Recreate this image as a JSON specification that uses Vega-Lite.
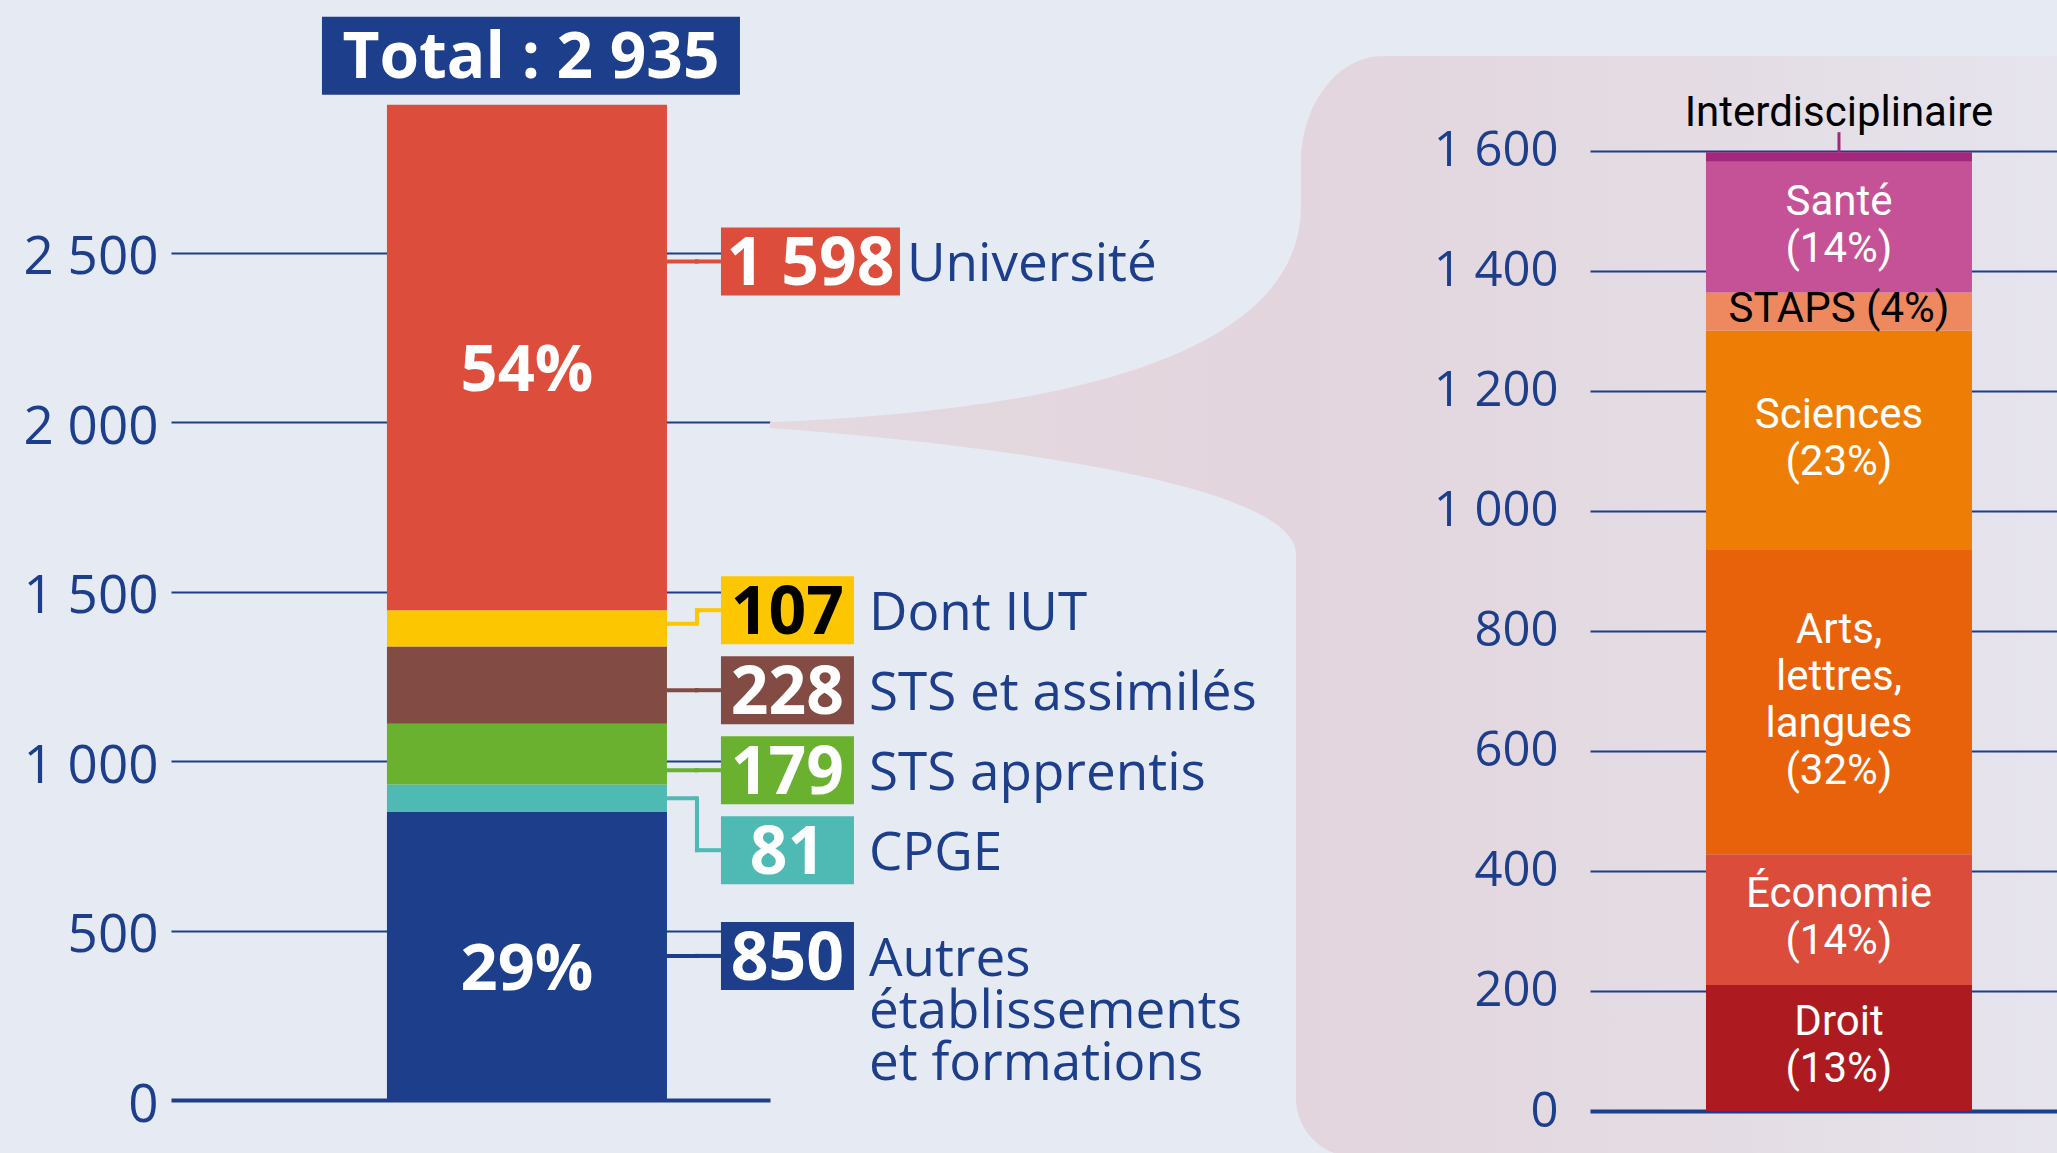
{
  "$schema": "https://vega.github.io/schema/vega-lite/v6.json",
  "background": "#e5eaf3",
  "padding": {"left": 23, "top": 16, "right": 0, "bottom": 0},
  "bounds": "flush",
  "spacing": 820,
  "resolve": {"scale": {"color": "independent"}},
  "config": {"view": {"stroke": null}, "font": "Open Sans"},
  "hconcat": [
    {
      "width": 599,
      "height": 1083,
      "data": {"values": [
        {"filiere": "Autres établissements et formations", "etablissement": "Autres établissements et formations", "effectif": 850},
        {"filiere": "CPGE", "etablissement": "CPGE", "effectif": 81},
        {"filiere": "STS apprentis", "etablissement": "STS apprentis", "effectif": 179},
        {"filiere": "STS et assimilés", "etablissement": "STS et assimilés", "effectif": 228},
        {"filiere": "Dont IUT", "etablissement": "Université", "effectif": 107},
        {"filiere": "Université hors IUT", "etablissement": "Université", "effectif": 1491}
      ]},
      "transform": [
        {"calculate": "'Ensemble'", "as": "ensemble"},
        {"calculate": "indexof(['Autres établissements et formations','CPGE','STS apprentis','STS et assimilés','Dont IUT','Université hors IUT'], datum.filiere)", "as": "rang"},
        {"stack": "effectif", "groupby": ["ensemble"], "sort": [{"field": "rang", "order": "ascending"}], "as": ["y0", "y1"]},
        {"joinaggregate": [{"op": "sum", "field": "effectif", "as": "total"}]},
        {"joinaggregate": [{"op": "sum", "field": "effectif", "as": "total_etab"}], "groupby": ["etablissement"]},
        {"calculate": "(datum.y0 + datum.y1) / 2", "as": "milieu"},
        {"calculate": "datum.filiere === 'Université hors IUT' ? datum.y0 + 0.69 * (datum.y1 - datum.y0) : (datum.filiere === 'Dont IUT' ? datum.y1 : datum.milieu)", "as": "ancre"},
        {"window": [{"op": "row_number", "as": "k"}], "sort": [{"field": "rang", "order": "descending"}]},
        {"calculate": "datum.ancre + (datum.k - 1) * 236", "as": "b"},
        {"window": [{"op": "min", "field": "b", "as": "bmin"}], "sort": [{"field": "rang", "order": "descending"}], "frame": [null, 0]},
        {"calculate": "datum.bmin - (datum.k - 1) * 236", "as": "y_etiquette"},
        {"calculate": "clamp(datum.y_etiquette, datum.y0 + min(40, (datum.y1 - datum.y0) / 2), datum.y1 - min(40, (datum.y1 - datum.y0) / 2))", "as": "depart"},
        {"calculate": "datum.filiere === 'Dont IUT' ? datum.effectif : datum.total_etab", "as": "valeur"},
        {"calculate": "replace(format(datum.valeur, ','), ',', ' ')", "as": "valeur_txt"},
        {"calculate": "datum.filiere === 'Université hors IUT' ? 'Université' : (datum.filiere === 'Autres établissements et formations' ? 'Autres\\nétablissements\\net formations' : datum.filiere)", "as": "nom"},
        {"calculate": "format(datum.total_etab / datum.total, '.0%')", "as": "part"}
      ],
      "encoding": {
        "x": {"field": "ensemble", "type": "nominal", "axis": null, "scale": {"type": "band", "paddingInner": 0, "paddingOuter": 0.5696, "align": 0.677}}
      },
      "layer": [
        {
          "transform": [{"filter": "datum.filiere === 'Université hors IUT'"}],
          "mark": {"type": "point", "shape": "M243,0C483,-9,774,-51,774,-216L774,-258C774,-318,811,-366,856,-366L1530,-366L1530,732L810,732A59,59,0,0,1,769,676L769,132C769,69,523,27,243,6Z", "size": 4, "filled": true, "opacity": 1, "fillOpacity": 1, "strokeWidth": 0,
            "fill": {"gradient": "linear", "x1": 0, "y1": 0, "x2": 1, "y2": 0, "stops": [{"offset": 0, "color": "#e4d9e0"}, {"offset": 0.4, "color": "#e3d5dd"}, {"offset": 0.7, "color": "#e4dbe3"}, {"offset": 1, "color": "#e6e4ed"}]}},
          "encoding": {"y": {"datum": 2000, "type": "quantitative", "scale": {"domain": [0, 3195], "nice": false, "zero": true},
            "axis": {"values": [0, 500, 1000, 1500, 2000, 2500], "labelExpr": "replace(format(datum.value, ','), ',', ' ')", "labelFontSize": 53, "labelColor": "#1d3e8a", "labelFont": "Open Sans", "labelPadding": 13, "labelOffset": 5, "ticks": false, "domain": false, "grid": true, "gridColor": "#1d3e8a", "gridOpacity": 1, "gridWidth": {"condition": {"test": "datum.value === 0", "value": 4}, "value": 2}, "title": null}}}
        },
        {
          "mark": {"type": "bar"},
          "encoding": {
            "y": {"field": "y1", "type": "quantitative", "title": null, "scale": {"domain": [0, 3195], "nice": false, "zero": true}},
            "y2": {"field": "y0"},
            "color": {"field": "filiere", "type": "nominal", "legend": null, "scale": {"domain": ["Autres établissements et formations", "CPGE", "STS apprentis", "STS et assimilés", "Dont IUT", "Université hors IUT"], "range": ["#1d3e8a", "#4fb9b3", "#6ab12f", "#824b43", "#fcc600", "#dc4e3b"]}}
          }
        },
        {
          "transform": [{"filter": "datum.filiere === 'Université hors IUT' || datum.filiere === 'Autres établissements et formations'"}],
          "mark": {"type": "text", "fontSize": 65, "fontWeight": "bold", "color": "#ffffff", "align": "center", "baseline": "middle", "dy": 14},
          "encoding": {"y": {"field": "milieu", "type": "quantitative", "title": null, "scale": {"domain": [0, 3195], "nice": false, "zero": true}}, "text": {"field": "part"}}
        },
        {
          "mark": {"type": "bar", "width": 30, "xOffset": 155, "yOffset": -2, "y2Offset": 2},
          "encoding": {"y": {"field": "depart", "type": "quantitative", "title": null, "scale": {"domain": [0, 3195], "nice": false, "zero": true}}, "y2": {"field": "depart"},
            "color": {"field": "filiere", "type": "nominal", "legend": null}}
        },
        {
          "mark": {"type": "rule", "xOffset": 170, "strokeWidth": 4, "strokeCap": "square"},
          "encoding": {"y": {"field": "depart", "type": "quantitative", "title": null, "scale": {"domain": [0, 3195], "nice": false, "zero": true}}, "y2": {"field": "y_etiquette"},
            "color": {"field": "filiere", "type": "nominal", "legend": null}}
        },
        {
          "mark": {"type": "bar", "width": 26, "xOffset": 181, "yOffset": -2, "y2Offset": 2},
          "encoding": {"y": {"field": "y_etiquette", "type": "quantitative", "title": null, "scale": {"domain": [0, 3195], "nice": false, "zero": true}}, "y2": {"field": "y_etiquette"},
            "color": {"field": "filiere", "type": "nominal", "legend": null}}
        },
        {
          "transform": [{"filter": "datum.filiere !== 'Université hors IUT'"}],
          "mark": {"type": "bar", "width": 133, "xOffset": 260.5, "yOffset": -34, "y2Offset": 34},
          "encoding": {"y": {"field": "y_etiquette", "type": "quantitative", "title": null, "scale": {"domain": [0, 3195], "nice": false, "zero": true}}, "y2": {"field": "y_etiquette"},
            "color": {"field": "filiere", "type": "nominal", "legend": null}}
        },
        {
          "transform": [{"filter": "datum.filiere === 'Université hors IUT'"}],
          "mark": {"type": "bar", "width": 179, "xOffset": 283.5, "yOffset": -34, "y2Offset": 34},
          "encoding": {"y": {"field": "y_etiquette", "type": "quantitative", "title": null, "scale": {"domain": [0, 3195], "nice": false, "zero": true}}, "y2": {"field": "y_etiquette"},
            "color": {"field": "filiere", "type": "nominal", "legend": null}}
        },
        {
          "transform": [{"filter": "datum.filiere !== 'Université hors IUT'"}],
          "mark": {"type": "text", "fontSize": 66, "fontWeight": "bold", "align": "center", "baseline": "top", "dy": -28, "xOffset": 260.5},
          "encoding": {"y": {"field": "y_etiquette", "type": "quantitative", "title": null, "scale": {"domain": [0, 3195], "nice": false, "zero": true}}, "text": {"field": "valeur_txt"},
            "color": {"condition": {"test": "datum.filiere === 'Dont IUT'", "value": "#000000"}, "value": "#ffffff"}}
        },
        {
          "transform": [{"filter": "datum.filiere === 'Université hors IUT'"}],
          "mark": {"type": "text", "fontSize": 66, "fontWeight": "bold", "align": "center", "baseline": "top", "dy": -28, "xOffset": 283.5, "color": "#ffffff"},
          "encoding": {"y": {"field": "y_etiquette", "type": "quantitative", "title": null, "scale": {"domain": [0, 3195], "nice": false, "zero": true}}, "text": {"field": "valeur_txt"}}
        },
        {
          "transform": [{"filter": "datum.filiere !== 'Université hors IUT'"}],
          "mark": {"type": "text", "fontSize": 53, "align": "left", "baseline": "top", "dy": -22, "xOffset": 342, "lineHeight": 52, "lineBreak": "\n", "color": "#1d3e8a"},
          "encoding": {"y": {"field": "y_etiquette", "type": "quantitative", "title": null, "scale": {"domain": [0, 3195], "nice": false, "zero": true}}, "text": {"field": "nom"}}
        },
        {
          "transform": [{"filter": "datum.filiere === 'Université hors IUT'"}],
          "mark": {"type": "text", "fontSize": 53, "align": "left", "baseline": "top", "dy": -22, "xOffset": 380, "color": "#1d3e8a"},
          "encoding": {"y": {"field": "y_etiquette", "type": "quantitative", "title": null, "scale": {"domain": [0, 3195], "nice": false, "zero": true}}, "text": {"field": "nom"}}
        },
        {
          "transform": [{"filter": "datum.filiere === 'Université hors IUT'"}],
          "mark": {"type": "bar", "width": 418, "xOffset": 4, "yOffset": -88, "y2Offset": -10, "color": "#1d3e8a"},
          "encoding": {"y": {"field": "total", "type": "quantitative", "title": null, "scale": {"domain": [0, 3195], "nice": false, "zero": true}}, "y2": {"field": "total"}}
        },
        {
          "transform": [{"filter": "datum.filiere === 'Université hors IUT'"}],
          "mark": {"type": "text", "fontSize": 64, "fontWeight": "bold", "align": "center", "baseline": "alphabetic", "dy": -27, "xOffset": 4, "color": "#ffffff"},
          "encoding": {"y": {"field": "total", "type": "quantitative", "title": null, "scale": {"domain": [0, 3195], "nice": false, "zero": true}}, "text": {"value": "Total : 2 935"}}
        }
      ]
    },
    {
      "width": 467,
      "height": 1094,
      "data": {"values": [
        {"discipline": "Droit", "etablissement": "Université", "effectif": 210},
        {"discipline": "Économie", "etablissement": "Université", "effectif": 218},
        {"discipline": "Arts, lettres, langues", "etablissement": "Université", "effectif": 507},
        {"discipline": "Sciences", "etablissement": "Université", "effectif": 366},
        {"discipline": "STAPS", "etablissement": "Université", "effectif": 63},
        {"discipline": "Santé", "etablissement": "Université", "effectif": 218},
        {"discipline": "Interdisciplinaire", "etablissement": "Université", "effectif": 16}
      ]},
      "transform": [
        {"calculate": "indexof(['Droit','Économie','Arts, lettres, langues','Sciences','STAPS','Santé','Interdisciplinaire'], datum.discipline)", "as": "rang"},
        {"stack": "effectif", "groupby": ["etablissement"], "sort": [{"field": "rang", "order": "ascending"}], "as": ["y0", "y1"]},
        {"joinaggregate": [{"op": "sum", "field": "effectif", "as": "total"}]},
        {"calculate": "(datum.y0 + datum.y1) / 2", "as": "milieu"},
        {"calculate": "format(datum.effectif / datum.total, '.0%')", "as": "part"},
        {"calculate": "datum.discipline === 'STAPS' ? 'STAPS (' + datum.part + ')' : replace(datum.discipline, regexp(', ', 'g'), ',\\n') + '\\n(' + datum.part + ')'", "as": "etiquette"},
        {"calculate": "length(split(datum.etiquette, '\\n'))", "as": "nlignes"},
        {"calculate": "datum.milieu + (22 + (datum.nlignes - 1) * 23.5) / 0.6", "as": "y_texte"}
      ],
      "encoding": {
        "x": {"field": "etablissement", "type": "nominal", "axis": null, "scale": {"type": "band", "paddingInner": 0, "paddingOuter": 0.3778, "align": 0.577}}
      },
      "layer": [
        {
          "mark": {"type": "bar"},
          "encoding": {
            "y": {"field": "y1", "type": "quantitative", "scale": {"domain": [0, 1823.33], "nice": false, "zero": true},
              "axis": {"values": [0, 200, 400, 600, 800, 1000, 1200, 1400, 1600], "labelExpr": "replace(format(datum.value, ','), ',', ' ')", "labelFontSize": 49, "labelColor": "#1d3e8a", "labelFont": "Open Sans", "labelPadding": 32, "ticks": false, "domain": false, "grid": true, "gridColor": "#1d3e8a", "gridOpacity": 1, "gridWidth": {"condition": {"test": "datum.value === 0", "value": 4}, "value": 2}, "title": null}},
            "y2": {"field": "y0"},
            "color": {"field": "discipline", "type": "nominal", "legend": null, "scale": {"domain": ["Droit", "Économie", "Arts, lettres, langues", "Sciences", "STAPS", "Santé", "Interdisciplinaire"], "range": ["#ad1b21", "#db4c3b", "#e8620c", "#ed7d05", "#ee895f", "#c55296", "#a3287d"]}}
          }
        },
        {
          "transform": [{"filter": "datum.discipline !== 'Interdisciplinaire'"}],
          "mark": {"type": "text", "font": "Liberation Sans Narrow, Roboto, sans-serif", "fontSize": 42, "align": "center", "baseline": "top", "lineHeight": 47, "lineBreak": "\n"},
          "encoding": {
            "y": {"field": "y_texte", "type": "quantitative", "title": null, "scale": {"domain": [0, 1823.33], "nice": false, "zero": true}},
            "text": {"field": "etiquette"},
            "color": {"condition": {"test": "datum.discipline === 'STAPS'", "value": "#000000"}, "value": "#ffffff"}
          }
        },
        {
          "transform": [{"filter": "datum.discipline === 'Interdisciplinaire'"}],
          "mark": {"type": "text", "font": "Liberation Sans Narrow, Roboto, sans-serif", "fontSize": 42, "align": "center", "baseline": "alphabetic", "dy": -26, "color": "#000000"},
          "encoding": {
            "y": {"field": "y1", "type": "quantitative", "title": null, "scale": {"domain": [0, 1823.33], "nice": false, "zero": true}},
            "text": {"field": "discipline"}
          }
        },
        {
          "transform": [{"filter": "datum.discipline === 'Interdisciplinaire'"}],
          "mark": {"type": "rule", "y2Offset": -20, "strokeWidth": 3, "color": "#a3287d"},
          "encoding": {
            "y": {"field": "y1", "type": "quantitative", "title": null, "scale": {"domain": [0, 1823.33], "nice": false, "zero": true}},
            "y2": {"field": "y1"}
          }
        }
      ]
    }
  ]
}
